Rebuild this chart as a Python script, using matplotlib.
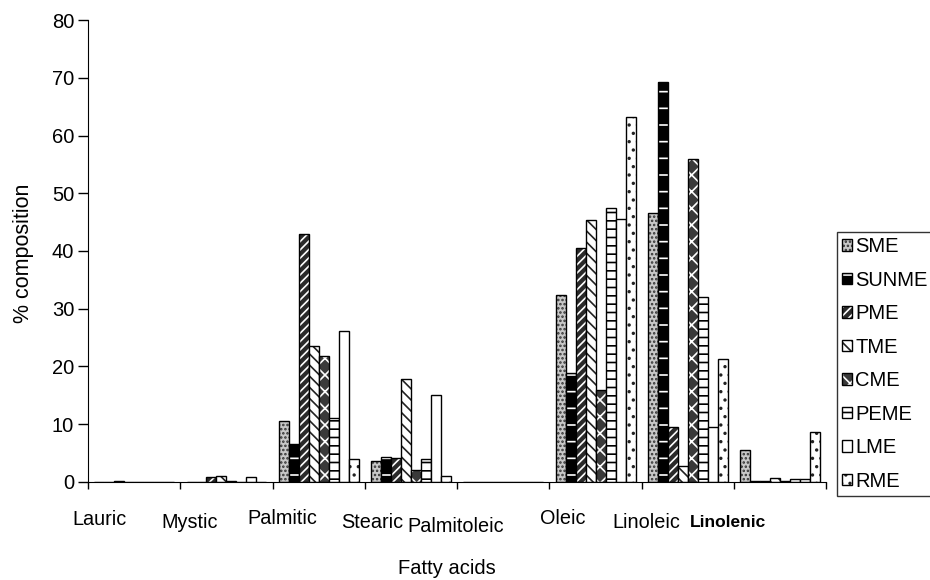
import numpy as np
import matplotlib
matplotlib.use("Agg")
import matplotlib.pyplot as plt
from matplotlib.patches import Patch

plt.rcParams['font.family'] = ['Liberation Sans', 'DejaVu Sans']
plt.rcParams['hatch.linewidth'] = 1.2

acids = ["Lauric", "Mystic", "Palmitic", "Stearic", "Palmitoleic", "Oleic", "Linoleic", "Linolenic"]
fuels = ["SME", "SUNME", "PME", "TME", "CME", "PEME", "LME", "RME"]

sme   = [0.0, 0.0, 10.5, 3.7, 0.0, 32.3, 46.6, 5.6]
sunme = [0.0, 0.0, 6.5, 4.4, 0.0, 18.8, 69.3, 0.2]
pme   = [0.2, 0.9, 43.0, 4.2, 0.0, 40.6, 9.6, 0.2]
tme   = [0.0, 1.1, 23.6, 17.9, 0.0, 45.3, 2.7, 0.7]
cme   = [0.0, 0.2, 21.8, 2.0, 0.0, 16.0, 55.9, 0.2]
peme  = [0.0, 0.0, 11.0, 4.0, 0.0, 47.4, 32.0, 0.6]
lme   = [0.0, 0.9, 26.1, 15.0, 0.0, 45.5, 9.5, 0.6]
rme   = [0.0, 0.0, 3.9, 1.1, 0.0, 63.2, 21.3, 8.6]
series = [sme, sunme, pme, tme, cme, peme, lme, rme]

# face colour, hatch, hatch colour for each fuel
styles = [
    ("#c8c8c8", "....", "#333333"),
    ("black", "-", "white"),
    ("#2a2a2a", "////", "white"),
    ("white", "\\\\\\", "#222222"),
    ("#3a3a3a", "xx", "white"),
    ("white", "--", "black"),
    ("white", "", "black"),
    ("white", "..", "#222222"),
]

fig = plt.figure(figsize=(9.3, 5.8), dpi=100)
ax = fig.add_axes([0.0946, 0.169, 0.794, 0.7965])

x = np.arange(len(acids)) + 0.5
w = 0.108
handles = []
for j, (vals, (fc, h, hc)) in enumerate(zip(series, styles)):
    pos = x + (j - 3.5) * w
    ax.bar(pos, vals, w, color=fc, edgecolor=hc, hatch=h, linewidth=0)
    ax.bar(pos, vals, w, fill=False, edgecolor="black", linewidth=1.0)
    handles.append((Patch(facecolor=fc, edgecolor=hc, hatch=h, linewidth=0),
                    Patch(fill=False, edgecolor="black", linewidth=1.0)))

ax.set_xlim(0, 8)
ax.set_ylim(0, 80)
ax.set_yticks(range(0, 81, 10))
ax.set_xticks(range(0, 9))
ax.set_xticklabels([])
ax.spines['top'].set_visible(False)
ax.spines['right'].set_visible(False)
ax.tick_params(axis='y', direction='out', length=7, width=1, labelsize=14.5, pad=3)
ax.tick_params(axis='x', direction='out', length=5, width=1)

# category labels sit unevenly under the groups, as in the original
label_x = [0.12, 1.10, 2.11, 3.08, 3.98, 5.14, 6.05, 6.93]
label_y = [-0.082, -0.087, -0.078, -0.087, -0.097, -0.078, -0.087, -0.087]
for i, name in enumerate(acids):
    ax.text(label_x[i], label_y[i], name, transform=ax.get_xaxis_transform(),
            ha='center', va='center', fontsize=14.3 if i < 7 else 12.5,
            fontweight='bold' if i == 7 else 'normal')

fig.text(447 / 930, 1 - 568 / 580, "Fatty acids", ha='center', va='center', fontsize=14.5)
fig.text(23 / 930, 1 - 253 / 580, "% composition", ha='center', va='center',
         rotation=90, fontsize=15.5)

leg = fig.legend(handles, fuels, loc='upper left', bbox_to_anchor=(0.9, 0.6),
                 bbox_transform=fig.transFigure, borderaxespad=0, fontsize=14.5,
                 frameon=True, fancybox=False, edgecolor='black',
                 handlelength=0.5, handleheight=0.5, handletextpad=0.15,
                 labelspacing=0.72, borderpad=0.25)
leg.get_frame().set_linewidth(1.0)

fig.savefig("out.png", dpi=100)
